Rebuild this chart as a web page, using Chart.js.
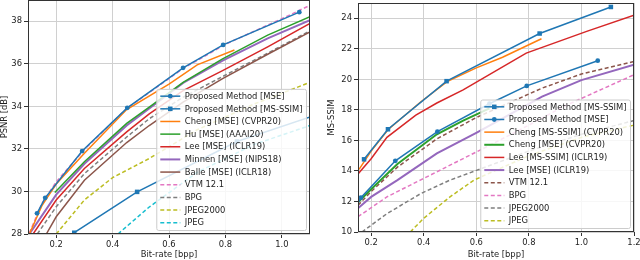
<!DOCTYPE html>
<html>
<head>
<meta charset="utf-8">
<script src="https://cdn.jsdelivr.net/npm/chart.js@4.4.1/dist/chart.umd.min.js"></script>
<style>
  html, body { margin: 0; padding: 0; background: #fff; }
  #wrap { position: relative; width: 640px; height: 260px; }
  .panel { position: absolute; top: 0; height: 260px; }
</style>
</head>
<body>
<div id="wrap">
  <div class="panel" style="left:0;width:320px"><canvas id="psnr"></canvas></div>
  <div class="panel" style="left:320px;width:320px"><canvas id="msssim"></canvas></div>
</div>
<script>
// ---- proposed models (same bit-rates in both plots)
var bppOursMse = [0.132, 0.161, 0.292, 0.452, 0.650, 0.792, 1.062];
var psnrOursMse = [28.97, 29.70, 31.90, 33.93, 35.81, 36.89, 38.43];
var ssimOursMse = [11.3, 12.25, 14.66, 16.57, 18.4, 19.57, 21.22];
var bppOursSsim = [0.173, 0.264, 0.487, 0.841, 1.112];
var psnrOursSsim = [27.0, 28.06, 29.98, 32.35, 33.55];
var ssimOursSsim = [14.76, 16.73, 19.88, 23.0, 24.74];

// ---- PSNR plot, other methods
var bppChengMse = [0.105, 0.15, 0.2, 0.3, 0.45, 0.6, 0.7, 0.832];
var psnrChengMse = [28.0, 29.35, 30.35, 31.8, 33.85, 35.05, 35.95, 36.65];
var bppHu = [0.195, 0.3, 0.45, 0.53, 0.65, 0.79, 0.95, 1.1];
var psnrHu = [29.95, 31.4, 33.2, 33.96, 35.13, 36.23, 37.35, 38.22];
var bppLeeMse = [0.118, 0.2, 0.3, 0.45, 0.53, 0.65, 0.79, 0.95, 1.1];
var psnrLeeMse = [28.0, 29.6, 31.08, 32.8, 33.65, 34.74, 35.68, 36.8, 37.9];
var bppMinnen = [0.105, 0.2, 0.3, 0.45, 0.65, 0.79, 0.95, 1.1];
var psnrMinnen = [28.0, 29.85, 31.3, 33.1, 35.1, 36.15, 37.2, 38.05];
var bppBalle = [0.165, 0.2, 0.3, 0.45, 0.53, 0.65, 0.79, 0.95, 1.1];
var psnrBalle = [28.0, 28.81, 30.53, 32.3, 33.1, 34.2, 35.3, 36.45, 37.5];
var bppVtmL = [0.105, 0.15, 0.2, 0.3, 0.45, 0.65, 0.8, 1.0, 1.1];
var psnrVtm = [28.05, 29.45, 30.45, 31.97, 33.9, 35.78, 36.92, 38.12, 38.75];
var bppBpgL = [0.133, 0.2, 0.3, 0.45, 0.53, 0.65, 0.79, 0.95, 1.1];
var psnrBpg = [28.0, 29.28, 30.84, 32.56, 33.42, 34.43, 35.4, 36.5, 37.55];
var bppJ2kL = [0.2, 0.3, 0.4, 0.53, 0.7, 0.9, 1.1];
var psnrJ2k = [28.0, 29.6, 30.65, 31.55, 32.9, 34.1, 35.13];
var bppJpegL = [0.419, 0.531, 0.7, 0.9, 1.1];
var psnrJpeg = [28.0, 29.28, 30.9, 32.2, 33.1];

// ---- MS-SSIM plot, other methods
var bppChengSsim = [0.154, 0.2, 0.264, 0.387, 0.489, 0.6, 0.7, 0.848];
var ssimChengSsim = [14.1, 15.3, 16.7, 18.5, 19.85, 20.75, 21.45, 22.66];
var bppChengMseR = [0.15, 0.2, 0.3, 0.45, 0.55, 0.65];
var ssimChengMse = [11.95, 12.8, 14.45, 16.4, 17.3, 18.1];
var bppLeeSsim = [0.15, 0.2, 0.26, 0.37, 0.45, 0.55, 0.79, 1.02, 1.2];
var ssimLeeSsim = [13.8, 14.8, 16.2, 17.65, 18.45, 19.31, 21.72, 23.14, 24.2];
var bppLeeMseR = [0.15, 0.2, 0.3, 0.45, 0.6, 0.85, 1.0, 1.2];
var ssimLeeMse = [11.55, 12.3, 13.4, 15.15, 16.5, 18.87, 19.95, 20.95];
var bppVtmR = [0.15, 0.2, 0.3, 0.45, 0.6, 0.85, 1.0, 1.2];
var ssimVtm = [11.75, 12.65, 14.25, 16.1, 17.5, 19.42, 20.35, 21.17];
var bppBpgR = [0.15, 0.26, 0.387, 0.45, 0.514, 0.642, 0.8, 0.93, 1.0, 1.2];
var ssimBpg = [11.0, 12.3, 13.4, 13.94, 14.5, 15.6, 17.0, 18.2, 18.75, 20.3];
var bppJ2kR = [0.165, 0.26, 0.387, 0.5, 0.603, 0.8, 1.0, 1.2];
var ssimJ2k = [10.0, 11.2, 12.5, 13.4, 14.05, 15.3, 16.4, 17.3];
var bppJpegR = [0.349, 0.4, 0.5, 0.591, 0.8, 1.0, 1.2];
var ssimJpeg = [10.0, 10.9, 12.3, 13.4, 15.0, 16.2, 17.0];

// ---- ticks
var xTicksL = [0.2, 0.4, 0.6, 0.8, 1.0];
var yTicksL = [28, 30, 32, 34, 36, 38];
var xTicksR = [0.2, 0.4, 0.6, 0.8, 1.0, 1.2];
var yTicksR = [10, 12, 14, 16, 18, 20, 22, 24];

var C = {
  blue: '#1f77b4', orange: '#ff7f0e', green: '#2ca02c', red: '#d62728', purple: '#9467bd',
  brown: '#8c564b', pink: '#e377c2', gray: '#7f7f7f', olive: '#bcbd22', cyan: '#17becf'
};
var FONT = { family: 'DejaVu Sans', size: 8.4 };

function pts(xs, ys) {
  return xs.map(function(x, i) { return { x: x, y: ys[i] }; });
}

function series(label, xs, ys, color, opts) {
  opts = opts || {};
  return {
    label: label,
    data: pts(xs, ys),
    borderColor: color,
    backgroundColor: color,
    borderWidth: opts.width || 1.5,
    borderDash: opts.dash ? [4, 2.5] : [],
    pointStyle: opts.marker || 'circle',
    pointRadius: opts.marker ? (opts.marker === 'rect' ? 3.2 : 2.4) : 0,
    pointBorderWidth: 0,
    tension: 0
  };
}

// frame + in-plot legend (lower right, like matplotlib)
var framePlugin = {
  id: 'frameLegend',
  afterDatasetsDraw: function(chart) {
    var ctx = chart.ctx, a = chart.chartArea;
    ctx.save();
    ctx.strokeStyle = '#333';
    ctx.lineWidth = 1;
    ctx.strokeRect(Math.round(a.left) + 0.5, Math.round(a.top) + 0.5,
      Math.round(a.right - a.left) - 1, Math.round(a.bottom - a.top) - 1);

    var sets = chart.data.datasets;
    ctx.font = FONT.size + 'px "' + FONT.family + '"';
    var maxW = 0;
    sets.forEach(function(d) { maxW = Math.max(maxW, ctx.measureText(d.label).width); });
    var rowH = 12.65;
    var w = 28 + maxW + 4, h = sets.length * rowH + 2;
    var x0 = a.right - 4 - w, y0 = a.bottom - 4 - h;

    ctx.fillStyle = 'rgba(255,255,255,0.82)';
    ctx.strokeStyle = '#cccccc';
    ctx.beginPath();
    ctx.roundRect(x0 + 0.5, y0 + 0.5, w, h, 2);
    ctx.fill();
    ctx.stroke();

    sets.forEach(function(d, i) {
      var cy = y0 + 1 + (i + 0.5) * rowH;
      ctx.strokeStyle = d.borderColor;
      ctx.lineWidth = d.borderWidth;
      ctx.setLineDash(d.borderDash);
      ctx.beginPath();
      ctx.moveTo(x0 + 4, cy);
      ctx.lineTo(x0 + 24, cy);
      ctx.stroke();
      ctx.setLineDash([]);
      if (d.pointRadius > 0) {
        ctx.fillStyle = d.borderColor;
        ctx.beginPath();
        if (d.pointStyle === 'rect') {
          var s = d.pointRadius * Math.SQRT1_2;
          ctx.rect(x0 + 14 - s, cy - s, 2 * s, 2 * s);
        } else {
          ctx.arc(x0 + 14, cy, d.pointRadius, 0, Math.PI * 2);
        }
        ctx.fill();
      }
      ctx.fillStyle = '#222';
      ctx.textBaseline = 'middle';
      ctx.fillText(d.label, x0 + 28.5, cy + 0.5);
    });
    ctx.restore();
  }
};

function noPad(s) {
  s.paddingTop = 0; s.paddingBottom = 0; s.paddingLeft = 0; s.paddingRight = 0;
}

function makeOptions(p) {
  return {
    responsive: true,
    maintainAspectRatio: false,
    animation: false,
    events: [],
    layout: { padding: p.padding, autoPadding: false },
    plugins: { legend: { display: false }, tooltip: { enabled: false } },
    scales: {
      x: {
        type: 'linear', min: p.xMin, max: p.xMax,
        afterBuildTicks: function(s) { s.ticks = p.xTicks.map(function(v) { return { value: v }; }); },
        afterFit: function(s) { s.height = p.xH; noPad(s); },
        ticks: { font: FONT, color: '#222', padding: 2, maxRotation: 0,
          callback: function(v) { return v.toFixed(1); } },
        grid: { color: '#d0d0d0', lineWidth: 1, tickLength: 4, tickColor: '#333' },
        border: { display: false },
        title: { display: true, text: 'Bit-rate [bpp]', font: FONT, color: '#222', padding: { top: 1, bottom: 0 } }
      },
      y: {
        type: 'linear', min: p.yMin, max: p.yMax,
        afterBuildTicks: function(s) { s.ticks = p.yTicks.map(function(v) { return { value: v }; }); },
        afterFit: function(s) { s.width = p.yW; noPad(s); },
        ticks: { font: FONT, color: '#222', padding: 2 },
        grid: { color: '#d0d0d0', lineWidth: 1, tickLength: 4, tickColor: '#333' },
        border: { display: false },
        title: { display: true, text: p.yTitle, font: FONT, color: '#222', padding: { top: p.yTitlePad, bottom: 0 } }
      }
    }
  };
}

new Chart(document.getElementById('psnr'), {
  type: 'line',
  data: {
    datasets: [
      series('Proposed Method [MSE]', bppOursMse, psnrOursMse, C.blue, { marker: 'circle' }),
      series('Proposed Method [MS-SSIM]', bppOursSsim, psnrOursSsim, C.blue, { marker: 'rect' }),
      series('Cheng [MSE] (CVPR20)', bppChengMse, psnrChengMse, C.orange),
      series('Hu [MSE] (AAAI20)', bppHu, psnrHu, C.green),
      series('Lee [MSE] (ICLR19)', bppLeeMse, psnrLeeMse, C.red),
      series('Minnen [MSE] (NIPS18)', bppMinnen, psnrMinnen, C.purple, { width: 2 }),
      series('Balle [MSE] (ICLR18)', bppBalle, psnrBalle, C.brown),
      series('VTM 12.1', bppVtmL, psnrVtm, C.pink, { dash: true }),
      series('BPG', bppBpgL, psnrBpg, C.gray, { dash: true }),
      series('JPEG2000', bppJ2kL, psnrJ2k, C.olive, { dash: true }),
      series('JPEG', bppJpegL, psnrJpeg, C.cyan, { dash: true })
    ]
  },
  options: makeOptions({
    padding: { left: 0, right: 10, top: 0, bottom: 0 },
    xMin: 0.1, xMax: 1.1, yMin: 28, yMax: 39,
    xTicks: xTicksL, yTicks: yTicksL, xH: 26, yW: 28,
    yTitle: 'PSNR [dB]', yTitlePad: 0
  }),
  plugins: [framePlugin]
});

new Chart(document.getElementById('msssim'), {
  type: 'line',
  data: {
    datasets: [
      series('Proposed Method [MS-SSIM]', bppOursSsim, ssimOursSsim, C.blue, { marker: 'rect' }),
      series('Proposed Method [MSE]', bppOursMse, ssimOursMse, C.blue, { marker: 'circle' }),
      series('Cheng [MS-SSIM] (CVPR20)', bppChengSsim, ssimChengSsim, C.orange),
      series('Cheng [MSE] (CVPR20)', bppChengMseR, ssimChengMse, C.green, { width: 2 }),
      series('Lee [MS-SSIM] (ICLR19)', bppLeeSsim, ssimLeeSsim, C.red),
      series('Lee [MSE] (ICLR19)', bppLeeMseR, ssimLeeMse, C.purple, { width: 2 }),
      series('VTM 12.1', bppVtmR, ssimVtm, C.brown, { dash: true }),
      series('BPG', bppBpgR, ssimBpg, C.pink, { dash: true }),
      series('JPEG2000', bppJ2kR, ssimJ2k, C.gray, { dash: true }),
      series('JPEG', bppJpegR, ssimJpeg, C.olive, { dash: true })
    ]
  },
  options: makeOptions({
    padding: { left: 0, right: 6, top: 3, bottom: 0 },
    xMin: 0.15, xMax: 1.2, yMin: 10, yMax: 25,
    xTicks: xTicksR, yTicks: yTicksR, xH: 28, yW: 38,
    yTitle: 'MS-SSIM', yTitlePad: 7
  }),
  plugins: [framePlugin]
});
</script>
</body>
</html>
